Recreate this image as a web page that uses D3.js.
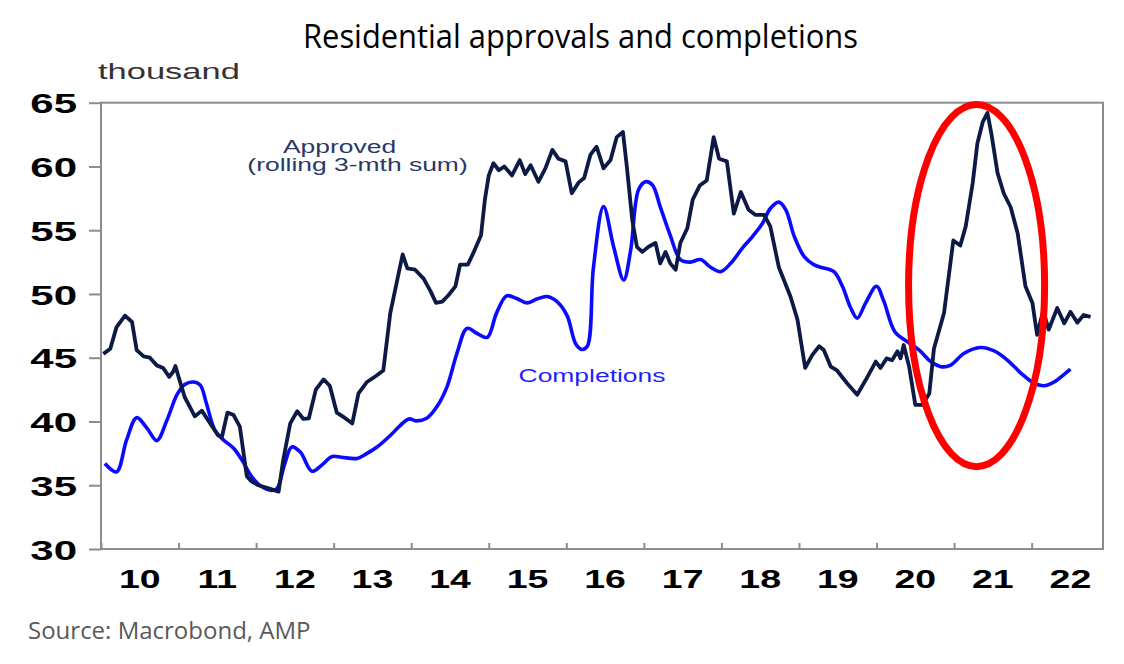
<!DOCTYPE html>
<html>
<head>
<meta charset="utf-8">
<script src="https://cdn.jsdelivr.net/npm/d3@7"></script>
<style>
  body { margin: 0; background: #fff; }
  svg { display: block; }
</style>
</head>
<body>
<svg id="chart" width="1124" height="664"></svg>
<script>
/********************** DATA *************************/
// Approved dwellings, rolling 3-mth sum (thousand)
const approvedYears = [
  2010.03, 2010.12, 2010.20, 2010.31, 2010.40, 2010.46, 2010.55, 2010.63, 2010.72, 2010.80,
  2010.88, 2010.93, 2010.96, 2011.00, 2011.08, 2011.21, 2011.30, 2011.51, 2011.56, 2011.63,
  2011.71, 2011.79, 2011.88, 2011.94, 2012.03, 2012.16, 2012.29, 2012.35, 2012.44, 2012.53,
  2012.61, 2012.68, 2012.77, 2012.87, 2012.95, 2013.04, 2013.14, 2013.24, 2013.32, 2013.43,
  2013.54, 2013.64, 2013.73, 2013.82, 2013.89, 2013.95, 2014.05, 2014.16, 2014.25, 2014.32,
  2014.40, 2014.48, 2014.57, 2014.63, 2014.73, 2014.80, 2014.90, 2014.95, 2015.00, 2015.06,
  2015.13, 2015.20, 2015.30, 2015.40, 2015.47, 2015.54, 2015.64, 2015.73, 2015.82, 2015.90,
  2015.99, 2016.07, 2016.16, 2016.23, 2016.31, 2016.39, 2016.48, 2016.57, 2016.65, 2016.73,
  2016.78, 2016.85, 2016.91, 2016.98, 2017.06, 2017.15, 2017.21, 2017.28, 2017.34, 2017.41,
  2017.47, 2017.56, 2017.63, 2017.72, 2017.81, 2017.90, 2017.97, 2018.07, 2018.16, 2018.25,
  2018.35, 2018.44, 2018.55, 2018.63, 2018.74, 2018.89, 2018.98, 2019.08, 2019.17, 2019.26,
  2019.32, 2019.41, 2019.49, 2019.62, 2019.75, 2019.86, 2019.99, 2020.05, 2020.13, 2020.20,
  2020.27, 2020.31, 2020.35, 2020.42, 2020.50, 2020.59, 2020.68, 2020.74, 2020.87, 2020.99,
  2021.08, 2021.15, 2021.24, 2021.30, 2021.37, 2021.43, 2021.48, 2021.56, 2021.64, 2021.73,
  2021.82, 2021.92, 2022.01, 2022.07, 2022.15, 2022.22, 2022.33, 2022.42, 2022.50, 2022.59,
  2022.67, 2022.76
];
const approvedValues = [
  45.3, 45.7, 47.4, 48.3, 47.8, 45.6, 45.1, 45.0, 44.4, 44.2,
  43.5, 43.9, 44.35, 43.5, 41.9, 40.4, 40.85, 38.9, 38.8, 40.7,
  40.5, 39.6, 35.7, 35.3, 35.0, 34.75, 34.5, 37.0, 39.85, 40.8,
  40.2, 40.25, 42.5, 43.3, 42.8, 40.7, 40.3, 39.85, 42.2, 43.1,
  43.55, 44.0, 48.5, 51.1, 53.1, 52.0, 51.9, 51.2, 50.2, 49.3,
  49.4, 49.9, 50.6, 52.3, 52.3, 53.2, 54.6, 57.4, 59.3, 60.25,
  59.7, 60.0, 59.3, 60.5, 59.4, 60.1, 58.8, 59.85, 61.3, 60.6,
  60.4, 57.9, 58.75, 59.1, 60.9, 61.55, 59.85, 60.5, 62.3, 62.7,
  60.0, 55.8, 53.7, 53.3, 53.7, 54.0, 52.4, 53.3, 52.4, 51.9,
  54.0, 55.15, 57.4, 58.5, 58.9, 62.3, 60.6, 60.4, 56.3, 58.0,
  56.6, 56.2, 56.2, 55.3, 52.1, 49.8, 48.0, 44.2, 45.2, 45.9,
  45.6, 44.3, 44.0, 43.0, 42.1, 43.25, 44.7, 44.2, 44.95, 44.8,
  45.5, 44.95, 46.0, 44.3, 41.3, 41.3, 42.2, 45.7, 48.5, 54.2,
  53.8, 55.3, 58.7, 61.8, 63.5, 64.2, 62.6, 59.5, 57.9, 56.8,
  54.75, 50.6, 49.3, 46.8, 48.7, 47.2, 48.9, 47.7, 48.6, 47.75,
  48.35, 48.2
];

// Dwelling completions (thousand)
const completionsYears = [
  2010.05, 2010.20, 2010.33, 2010.46, 2010.59, 2010.72, 2010.85, 2010.98, 2011.08, 2011.19,
  2011.28, 2011.36, 2011.47, 2011.58, 2011.71, 2011.82, 2011.94, 2012.07, 2012.20, 2012.27,
  2012.37, 2012.46, 2012.57, 2012.72, 2012.85, 2012.98, 2013.10, 2013.30, 2013.43, 2013.56,
  2013.73, 2013.86, 2013.97, 2014.07, 2014.20, 2014.33, 2014.46, 2014.59, 2014.72, 2014.85,
  2014.98, 2015.10, 2015.23, 2015.36, 2015.49, 2015.62, 2015.75, 2015.88, 2016.01, 2016.12,
  2016.20, 2016.27, 2016.35, 2016.48, 2016.61, 2016.74, 2016.83, 2016.93, 2017.02, 2017.11,
  2017.21, 2017.34, 2017.47, 2017.60, 2017.73, 2017.86, 2017.99, 2018.12, 2018.27, 2018.40,
  2018.53, 2018.63, 2018.74, 2018.83, 2018.94, 2019.07, 2019.19, 2019.28, 2019.45, 2019.56,
  2019.66, 2019.75, 2019.86, 2020.00, 2020.09, 2020.24, 2020.40, 2020.55, 2020.70, 2020.83,
  2020.95, 2021.13, 2021.34, 2021.51, 2021.69, 2021.86, 2022.03, 2022.16, 2022.29, 2022.42,
  2022.50
];
const completionsValues = [
  36.7, 36.05, 38.55, 40.3, 39.5, 38.5, 40.1, 42.1, 42.9, 43.1,
  42.85, 41.4, 39.3, 38.55, 37.9, 36.95, 35.7, 34.9, 34.6, 34.75,
  36.7, 38.0, 37.6, 36.1, 36.6, 37.25, 37.2, 37.1, 37.5, 38.0,
  38.9, 39.7, 40.2, 40.05, 40.25, 41.15, 42.7, 45.35, 47.3, 46.9,
  46.6, 48.5, 49.85, 49.65, 49.3, 49.6, 49.8, 49.4, 48.3, 46.1,
  45.65, 45.9, 52.1, 56.85, 53.7, 51.1, 53.45, 58.15, 58.8, 58.55,
  56.85, 54.6, 52.7, 52.5, 52.7, 52.1, 51.75, 52.4, 53.6, 54.5,
  55.55, 56.7, 57.2, 56.6, 54.5, 52.9, 52.3, 52.1, 51.75, 50.6,
  49.0, 48.1, 49.3, 50.6, 49.5, 47.0, 46.25, 45.6, 44.7, 44.3,
  44.4, 45.35, 45.8, 45.55, 44.8, 43.8, 43.0, 42.8, 43.1, 43.7,
  44.1
];

// Axis ticks and labels
const yTicks = [30, 35, 40, 45, 50, 55, 60, 65];
const yearTicks = [2010, 2011, 2012, 2013, 2014, 2015, 2016, 2017, 2018, 2019, 2020, 2021, 2022];
const yearLabels = ['10', '11', '12', '13', '14', '15', '16', '17', '18', '19', '20', '21', '22'];

// Highlight ellipse around the 2021 surge (centre + half widths in data units)
const highlightCentre = [2021.29, 50.66];
const highlightHalf = [0.877, 14.2];

/********************** CHART *************************/
class Chart {
    constructor() {
        this.svg = d3.select('#chart');
        this.margin = { top: 102.7, left: 101, right: 21, bottom: 115 };
        this.width = 1124 - this.margin.left - this.margin.right;
        this.height = 664 - this.margin.top - this.margin.bottom;
        this.stretch = 1.5; // the source picture is widened, so the text is too
        this.tickFont = '"Liberation Sans", Arial, sans-serif';
    }

    draw = () => {
        this.setScales();
        this.setTexts();
        this.setContainer();
        this.setYAxis();
        this.setXAxis();
        this.setLines();
        this.setLabels();
        this.setHighlight();
    }

    setScales = () => {
        this.x = d3.scaleLinear().domain([2010, 2022.92]).range([0, this.width]);
        this.y = d3.scaleLinear().domain([30, 65]).range([this.height, 0]);
    }

    setTexts = () => {
        // Title
        this.svg.append('text')
            .attr('x', 580.5).attr('y', 48)
            .attr('text-anchor', 'middle')
            .attr('textLength', 555).attr('lengthAdjust', 'spacingAndGlyphs')
            .style('font-family', '"Open Sans", sans-serif')
            .style('font-size', '32px')
            .style('fill', '#000')
            .text('Residential approvals and completions');

        // Unit label
        this.svg.append('text')
            .attr('transform', `translate(98,79) scale(${this.stretch},1)`)
            .style('font-family', this.tickFont)
            .style('font-size', '23px')
            .style('fill', '#333')
            .text('thousand');

        // Source
        this.svg.append('text')
            .attr('x', 28).attr('y', 639)
            .style('font-family', '"Open Sans", sans-serif')
            .style('font-size', '24px')
            .style('fill', '#595959')
            .text('Source: Macrobond, AMP');
    }

    setContainer = () => {
        this.g = this.svg.append('g')
            .attr('transform', `translate(${this.margin.left},${this.margin.top})`);
        // grey frame round the plot
        this.g.append('rect')
            .attr('width', this.width).attr('height', this.height)
            .attr('fill', 'none')
            .attr('stroke', '#8c8c8c')
            .attr('stroke-width', 2);
    }

    setYAxis = () => {
        const axis = this.g.append('g')
            .call(d3.axisLeft(this.y).tickValues(yTicks).tickSize(12).tickFormat(d3.format('d')));
        axis.select('.domain').remove();
        axis.selectAll('line').attr('stroke', '#8c8c8c').attr('stroke-width', 2);
        axis.selectAll('text')
            .attr('x', null).attr('dy', '0.36em')
            .attr('transform', `translate(-24,0) scale(${this.stretch},1)`)
            .style('font-family', this.tickFont)
            .style('font-weight', 'bold')
            .style('font-size', '28px')
            .style('fill', '#000');
    }

    setXAxis = () => {
        const axis = this.g.append('g')
            .attr('transform', `translate(0,${this.height})`)
            .call(d3.axisBottom(this.x).tickValues(yearTicks).tickSize(-6).tickFormat(''));
        axis.select('.domain').remove();
        axis.selectAll('line').attr('stroke', '#8c8c8c').attr('stroke-width', 2);

        // year labels sit in the middle of each year
        this.g.append('g').selectAll('text')
            .data(yearTicks)
            .join('text')
            .attr('transform', (d) => `translate(${this.x(d + 0.5)},${this.height + 39}) scale(${this.stretch},1)`)
            .attr('text-anchor', 'middle')
            .style('font-family', this.tickFont)
            .style('font-weight', 'bold')
            .style('font-size', '25px')
            .style('fill', '#000')
            .text((d, i) => yearLabels[i]);
    }

    setLines = () => {
        const completions = completionsYears.map((d, i) => [d, completionsValues[i]]);
        const approved = approvedYears.map((d, i) => [d, approvedValues[i]]);

        const smooth = d3.line()
            .x((d) => this.x(d[0])).y((d) => this.y(d[1]))
            .curve(d3.curveCatmullRom.alpha(0.5));
        const jagged = d3.line()
            .x((d) => this.x(d[0])).y((d) => this.y(d[1]));

        this.g.append('path')
            .datum(completions)
            .attr('d', smooth)
            .attr('fill', 'none')
            .attr('stroke', '#0a0aff')
            .attr('stroke-width', 3.6)
            .attr('stroke-linejoin', 'round');

        this.g.append('path')
            .datum(approved)
            .attr('d', jagged)
            .attr('fill', 'none')
            .attr('stroke', '#0c1a45')
            .attr('stroke-width', 3.8)
            .attr('stroke-linejoin', 'round');
    }

    setLabels = () => {
        const label = (x, y, text, colour) => {
            this.svg.append('text')
                .attr('transform', `translate(${x},${y}) scale(${this.stretch * 0.98},1)`)
                .attr('text-anchor', 'middle')
                .style('font-family', this.tickFont)
                .style('font-size', '18px')
                .style('fill', colour)
                .text(text);
        };
        label(339.5, 153, 'Approved', '#2a3966');
        label(357.5, 171, '(rolling 3-mth sum)', '#2a3966');
        label(592, 381.5, 'Completions', '#1f1fff');
    }

    setHighlight = () => {
        const [cx, cy] = highlightCentre;
        const [hx, hy] = highlightHalf;
        this.g.append('ellipse')
            .attr('cx', this.x(cx))
            .attr('cy', this.y(cy))
            .attr('rx', this.x(cx + hx) - this.x(cx))
            .attr('ry', this.y(cy - hy) - this.y(cy))
            .attr('fill', 'none')
            .attr('stroke', '#ff0000')
            .attr('stroke-width', 7);
    }
}

new Chart().draw();
</script>
</body>
</html>
